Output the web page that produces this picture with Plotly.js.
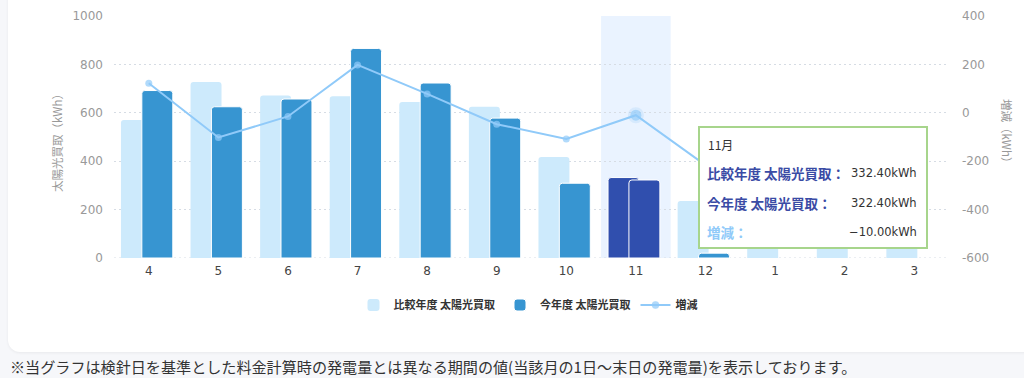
<!DOCTYPE html>
<html>
<head>
<meta charset="utf-8">
<script src="https://cdn.plot.ly/plotly-3.0.1.min.js"></script>
<style>
  html, body { margin:0; padding:0; width:1024px; height:378px; overflow:hidden; background:#F6F7FA; }
  #card { position:absolute; left:8px; top:-20px; width:1060px; height:372px; background:#ffffff; border-radius:12px; box-shadow:0 1px 3px rgba(0,0,0,0.06); }
  #chart { position:absolute; left:0; top:0; width:1024px; height:378px; }
</style>
</head>
<body>
<div id="card"></div>
<div id="chart"></div>
<script>
// ---- data ----
const months = ['4','5','6','7','8','9','10','11','12','1','2','3'];
const compareYear = [570, 727, 672, 668, 645, 625, 417, 332.4, 236, 260, 340, 470];   // 比較年度 太陽光買取
const currentYear = [692, 625, 657, 866, 723, 578, 309, 322.4, 20, null, null, null]; // 今年度 太陽光買取
const diffValues  = [122, -102, -15, 198, 78, -47, -108, -10, -216, null, null, null]; // 増減
const leftTicks  = [0, 200, 400, 600, 800, 1000];
const rightTicks = [-600, -400, -200, 0, 200, 400];
const highlightMonth = '11';

// ---- styles ----
const hi = months.indexOf(highlightMonth);
const lightColor = '#CDEAFC', darkColor = '#3795D1', hiColor = '#304FAE', lineColor = '#90CAF9';
const cjk = '"Noto Sans CJK JP", "Noto Sans", sans-serif';
const num = '"DejaVu Sans", sans-serif';
const gridDash = '2px,3px';

const lightColors = months.map((m,i) => i === hi ? hiColor : lightColor);
const darkColors  = months.map((m,i) => i === hi ? hiColor : darkColor);
const lightLine   = months.map((m,i) => i === hi ? 1 : 0);
const mSizes      = months.map((m,i) => i === hi ? 11 : 7);
const mLineW      = months.map((m,i) => i === hi ? 5 : 0);

const traces = [
  { type:'bar', name:'比較年度 太陽光買取', x:months, y:compareYear,
    width:0.445, offset:-0.40,
    marker:{ color:lightColors, cornerradius:3, line:{ color:'#ffffff', width:lightLine } },
    hoverinfo:'skip' },
  { type:'bar', name:'今年度 太陽光買取', x:months, y:currentYear,
    width:0.445, offset:-0.10,
    marker:{ color:darkColors, cornerradius:3, line:{ color:'#ffffff', width:1 } },
    hoverinfo:'skip' },
  { type:'scatter', mode:'lines+markers', name:'増減', x:months, y:diffValues, yaxis:'y2',
    line:{ color:lineColor, width:2 },
    marker:{ color:lineColor, size:mSizes, line:{ color:'rgba(144,202,249,0.3)', width:mLineW } },
    hoverinfo:'skip' }
];

// pixel helpers for paper coordinates (plot area x:114..949, y:16..258)
const PX0 = 114, PX1 = 949, PY0 = 258, PY1 = 16;
const px = v => (v - PX0) / (PX1 - PX0);
const py = v => (PY0 - v) / (PY0 - PY1);

const fmt = v => (v < 0 ? '−' : '') + Math.abs(v).toFixed(2) + 'kWh';

const annotations = [
  { text:'太陽光買取（kWh）', xref:'paper', yref:'paper', x:px(57), y:py(140), textangle:-90,
    xanchor:'center', yanchor:'middle',
    showarrow:false, font:{ family:cjk, size:11.5, color:'#999999' } },
  { text:'増減（kWh）', xref:'paper', yref:'paper', x:px(1007), y:py(133), textangle:90,
    xanchor:'center', yanchor:'middle',
    showarrow:false, font:{ family:cjk, size:11.5, color:'#999999' } },
  // tooltip
  { text:months[hi] + '月', xref:'paper', yref:'paper', x:px(706), y:py(144), xanchor:'left', yanchor:'middle',
    showarrow:false, font:{ family:cjk, size:12, color:'#333333' } },
  { text:'<b>比較年度 太陽光買取：</b>', xref:'paper', yref:'paper', x:px(705), y:py(173), xanchor:'left', yanchor:'middle',
    showarrow:false, font:{ family:cjk, size:13.5, color:'#3A4BA5' } },
  { text:fmt(compareYear[hi]), xref:'paper', yref:'paper', x:px(919), y:py(173), xanchor:'right', yanchor:'middle',
    showarrow:false, font:{ family:num, size:11.5, color:'#333333' } },
  { text:'<b>今年度 太陽光買取：</b>', xref:'paper', yref:'paper', x:px(705), y:py(203), xanchor:'left', yanchor:'middle',
    showarrow:false, font:{ family:cjk, size:13.5, color:'#3A4BA5' } },
  { text:fmt(currentYear[hi]), xref:'paper', yref:'paper', x:px(919), y:py(203), xanchor:'right', yanchor:'middle',
    showarrow:false, font:{ family:num, size:11.5, color:'#333333' } },
  { text:'<b>増減：</b>', xref:'paper', yref:'paper', x:px(705), y:py(232), xanchor:'left', yanchor:'middle',
    showarrow:false, font:{ family:cjk, size:13.5, color:lineColor } },
  { text:fmt(diffValues[hi]), xref:'paper', yref:'paper', x:px(919), y:py(232), xanchor:'right', yanchor:'middle',
    showarrow:false, font:{ family:num, size:11.5, color:'#333333' } },
  // footnote
  { text:'※当グラフは検針日を基準とした料金計算時の発電量とは異なる期間の値(当該月の1日～末日の発電量)を表示しております。',
    xref:'paper', yref:'paper', x:px(8), y:py(366), xanchor:'left', yanchor:'middle',
    showarrow:false, font:{ family:cjk, size:15.1, color:'#333333' } }
];

const shapes = [
  { type:'rect', xref:'x', yref:'paper', x0:hi-0.5, x1:hi+0.5, y0:0, y1:1,
    fillcolor:'#EAF3FF', line:{ width:0 }, layer:'below' },
  { type:'line', xref:'paper', yref:'y', x0:0, x1:1, y0:0, y1:0,
    line:{ color:'#D6DCE4', width:1, dash:gridDash }, layer:'below' },
  { type:'rect', xref:'paper', yref:'paper', x0:px(699), x1:px(927), y0:py(248), y1:py(127),
    fillcolor:'#ffffff', line:{ color:'#A7D58C', width:2 }, layer:'above' }
];

const layout = {
  width:1024, height:378,
  margin:{ l:114, r:75, t:16, b:120 },
  paper_bgcolor:'rgba(0,0,0,0)', plot_bgcolor:'rgba(0,0,0,0)',
  barmode:'overlay',
  showlegend:true,
  legend:{ orientation:'h', x:px(528), xanchor:'center', y:py(305), yanchor:'middle',
    font:{ family:cjk, size:11, color:'#333333', weight:'bold' }, itemwidth:30 },
  xaxis:{ type:'category', categoryorder:'array', categoryarray:months, range:[-0.5, months.length-0.5],
    autorange:false,
    tickfont:{ family:num, size:12, color:'#444444' }, showgrid:false, zeroline:false, showline:false,
    ticks:'', ticklabelstandoff:4, fixedrange:true },
  yaxis:{ range:[0,1000], autorange:false, tickvals:leftTicks, ticktext:leftTicks.map(String),
    tickfont:{ family:num, size:12, color:'#999999' },
    showgrid:true, gridcolor:'#D6DCE4', griddash:gridDash, gridwidth:1,
    zeroline:false, showline:false, ticks:'', ticklabelstandoff:10 },
  yaxis2:{ overlaying:'y', side:'right', range:[-600,400], autorange:false, tickvals:rightTicks, ticktext:rightTicks.map(String),
    tickfont:{ family:num, size:12, color:'#999999' },
    showgrid:false, zeroline:false, showline:false, ticks:'', ticklabelstandoff:12 },
  shapes:shapes,
  annotations:annotations,
  hovermode:false
};

Plotly.newPlot('chart', traces, layout, { displayModeBar:false, staticPlot:true });
</script>
</body>
</html>
